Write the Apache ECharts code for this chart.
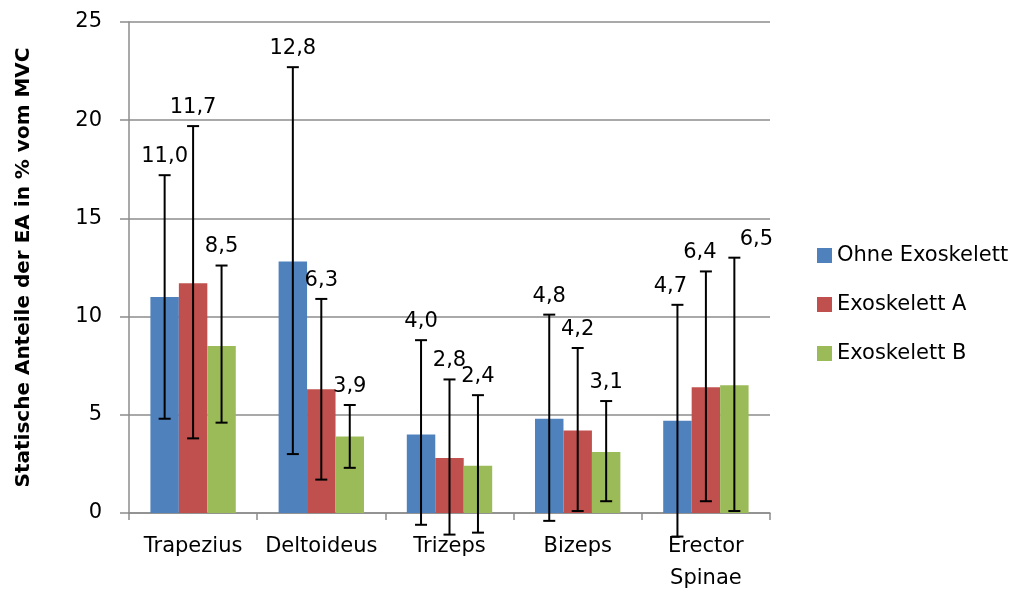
<!DOCTYPE html>
<html>
<head>
<meta charset="utf-8">
<script src="https://cdn.jsdelivr.net/npm/echarts@6/dist/echarts.min.js"></script>
<style>
  html, body { margin: 0; padding: 0; background: #fff; }
  #chart { width: 1018px; height: 592px; }
</style>
</head>
<body>
<div id="chart"></div>
<script>
const categories = ['Trapezius', 'Deltoideus', 'Trizeps', 'Bizeps', 'Erector\nSpinae']
const seriesNames = ['Ohne Exoskelett', 'Exoskelett A', 'Exoskelett B']

const ohne = [11.0, 12.8, 4.0, 4.8, 4.7]
const exoA = [11.7, 6.3, 2.8, 4.2, 6.4]
const exoB = [8.5, 3.9, 2.4, 3.1, 6.5]

// error bar ends (low / high)
const ohneLow = [4.8, 3.0, -0.6, -0.4, -1.2]
const ohneHigh = [17.2, 22.7, 8.8, 10.1, 10.6]
const exoALow = [3.8, 1.7, -1.1, 0.1, 0.6]
const exoAHigh = [19.7, 10.9, 6.8, 8.4, 12.3]
const exoBLow = [4.6, 2.3, -1.0, 0.6, 0.1]
const exoBHigh = [12.6, 5.5, 6.0, 5.7, 13.0]

const yTicks = [0, 5, 10, 15, 20, 25]

const colors = ['#4F81BD', '#C0504D', '#9BBB59']
const FONT = 'DejaVu Sans'
const CAT_GAP = 0.334
// labels nudged sideways in the original to avoid overlap (series-category)
const labelShift = { '0-4': -7, '1-4': -6, '2-4': 22 }

const means = [ohne, exoA, exoB]
const lows = [ohneLow, exoALow, exoBLow]
const highs = [ohneHigh, exoAHigh, exoBHigh]

const chart = echarts.init(document.getElementById('chart'))

function errorSeries(k) {
  return {
    type: 'custom',
    name: seriesNames[k] + ' err',
    clip: false,
    z: 5,
    encode: { x: 0, y: [1, 2] },
    data: categories.map((c, i) => [i, lows[k][i], highs[k][i], means[k][i]]),
    renderItem: (params, api) => {
      const i = api.value(0)
      const band = api.size([1, 0])[0]
      const barW = band * (1 - CAT_GAP) / 3
      const off = (k - 1) * barW
      const lo = api.coord([i, api.value(1)])
      const hi = api.coord([i, api.value(2)])
      const x = lo[0] + off
      const cap = 6
      const style = { stroke: '#000', lineWidth: 2 }
      const label = api.value(3).toFixed(1).replace('.', ',')
      const dx = labelShift[k + '-' + i] || 0
      return {
        type: 'group',
        children: [
          { type: 'line', shape: { x1: x, y1: lo[1], x2: x, y2: hi[1] }, style },
          { type: 'line', shape: { x1: x - cap, y1: lo[1], x2: x + cap, y2: lo[1] }, style },
          { type: 'line', shape: { x1: x - cap, y1: hi[1], x2: x + cap, y2: hi[1] }, style },
          {
            type: 'text',
            x: x + dx,
            y: hi[1] - 8,
            style: {
              text: label, fill: '#000', font: '21px "' + FONT + '"',
              textAlign: 'center', textVerticalAlign: 'bottom'
            }
          }
        ]
      }
    }
  }
}

const series = []
for (let k = 0; k < 3; k++) {
  series.push({
    name: seriesNames[k],
    type: 'bar',
    data: means[k],
    barGap: '0%',
    barCategoryGap: (CAT_GAP * 100) + '%',
    itemStyle: { color: colors[k] },
  })
}
for (let k = 0; k < 3; k++) series.push(errorSeries(k))

chart.setOption({
  animation: false,
  textStyle: { fontFamily: FONT },
  legend: {
    data: seriesNames,
    orient: 'vertical',
    left: 812,
    top: 240,
    itemWidth: 15,
    itemHeight: 15,
    itemGap: 28,
    icon: 'rect',
    textStyle: { fontFamily: FONT, fontSize: 21, color: '#000' },
  },
  grid: { left: 129, right: 248, top: 22, bottom: 79, containLabel: false, outerBoundsMode: 'none' },
  xAxis: {
    type: 'category',
    data: categories,
    axisLine: { lineStyle: { color: '#8c8c8c', width: 1.5 } },
    axisTick: { show: true, length: 7, lineStyle: { color: '#8c8c8c', width: 1.5 } },
    axisLabel: { fontFamily: FONT, fontSize: 21, color: '#000', margin: 18, lineHeight: 32, interval: 0 },
  },
  yAxis: {
    type: 'value',
    min: yTicks[0],
    max: yTicks[yTicks.length - 1],
    interval: 5,
    name: 'Statische Anteile der EA in % vom MVC',
    nameLocation: 'middle',
    nameGap: 95,
    nameTextStyle: { fontFamily: FONT, fontSize: 20, fontWeight: 'bold', color: '#000' },
    axisLine: { show: true, lineStyle: { color: '#8c8c8c', width: 1.5 } },
    axisTick: { show: true, length: 9, lineStyle: { color: '#8c8c8c', width: 1.5 } },
    splitLine: { lineStyle: { color: '#8c8c8c', width: 1.5 } },
    axisLabel: { fontFamily: FONT, fontSize: 21, color: '#000', margin: 27 },
  },
  series,
})
</script>
</body>
</html>
